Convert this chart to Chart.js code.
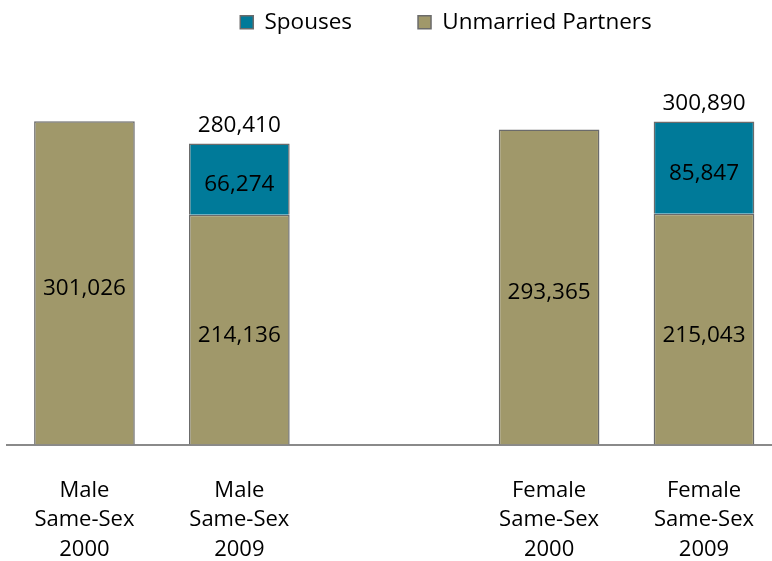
<!DOCTYPE html>
<html>
<head>
<meta charset="utf-8">
<script src="https://cdn.jsdelivr.net/npm/chart.js@4"></script>
<style>
  html, body { margin: 0; padding: 0; background: #fff; overflow: hidden; }
  /* the source image is a crop: the plot runs a little past the right and bottom edges */
  #wrap { width: 772px; height: 561px; overflow: hidden; }
</style>
</head>
<body>
<div id="wrap"><canvas id="chart" width="785" height="595"></canvas></div>
<script>
// Chart data
const categories = [
    ['Male', 'Same-Sex', '2000'],
    ['Male', 'Same-Sex', '2009'],
    '',
    ['Female', 'Same-Sex', '2000'],
    ['Female', 'Same-Sex', '2009']
];
const unmarriedPartners = [301026, 214136, null, 293365, 215043];
const spouses = [null, 66274, null, null, 85847];
const totals = [null, 280410, null, null, 300890];

const colors = {
    olive: '#a0986a',
    teal: '#007a99',
    border: '#6b6b6b',
    axis: '#8a8a8a'
};

const fontFamily = '"Open Sans", "Noto Sans", sans-serif';

const fmt = v => v.toLocaleString('en-US');

// draws segment values in the middle and totals above the stacked bars
const valueLabels = {
    id: 'valueLabels',
    afterDatasetsDraw(chart) {
        const ctx = chart.ctx;
        ctx.save();
        ctx.font = '22.5px ' + fontFamily;
        ctx.fillStyle = '#000';
        ctx.textAlign = 'center';
        ctx.textBaseline = 'middle';
        chart.data.datasets.forEach((ds, di) => {
            const meta = chart.getDatasetMeta(di);
            meta.data.forEach((bar, i) => {
                const v = ds.data[i];
                if (v == null) return;
                const mid = (bar.y + bar.base) / 2;
                ctx.fillText(fmt(v), bar.x, mid + 6);
            });
        });
        const topMeta = chart.getDatasetMeta(1);
        totals.forEach((t, i) => {
            if (t == null) return;
            const bar = topMeta.data[i];
            ctx.fillText(fmt(t), bar.x, bar.y - 18);
        });
        ctx.restore();
    }
};

// legend sits right of centre with a big gap below it
const legendPlacement = {
    id: 'legendPlacement',
    beforeInit(chart) {
        const fit = chart.legend.fit;
        chart.legend.fit = function() {
            fit.bind(chart.legend)();
            this.height = 101;
        };
    },
    afterLayout(chart) {
        const lg = chart.legend;
        lg.left += 50;
        lg.right += 50;
        lg.top -= 55;
        lg.bottom -= 55;
    }
};

new Chart(document.getElementById('chart'), {
    type: 'bar',
    data: {
        labels: categories,
        datasets: [
            {
                label: 'Unmarried Partners',
                data: unmarriedPartners,
                backgroundColor: colors.olive,
                borderColor: colors.border,
                borderWidth: 1.5
            },
            {
                label: 'Spouses',
                data: spouses,
                backgroundColor: colors.teal,
                borderColor: colors.border,
                borderWidth: 1.5
            }
        ]
    },
    options: {
        responsive: false,
        animation: false,
        devicePixelRatio: 1,
        layout: {
            padding: { left: 7, right: 0, top: 0, bottom: 0 }
        },
        datasets: {
            bar: {
                categoryPercentage: 1,
                barPercentage: 0.65
            }
        },
        scales: {
            x: {
                stacked: true,
                grid: { display: false, drawTicks: false },
                border: { display: true, color: colors.axis, width: 2 },
                ticks: {
                    color: '#000',
                    font: { family: fontFamily, size: 22, lineHeight: 1.34 },
                    padding: 31,
                    maxRotation: 0,
                    autoSkip: false
                }
            },
            y: {
                stacked: true,
                display: false,
                min: 0,
                max: 320000
            }
        },
        plugins: {
            legend: {
                position: 'top',
                reverse: true,
                labels: {
                    color: '#000',
                    font: { family: fontFamily, size: 22.5 },
                    boxWidth: 13,
                    boxHeight: 13,
                    padding: 66,
                    useBorderRadius: false
                }
            },
            tooltip: { enabled: false }
        }
    },
    plugins: [valueLabels, legendPlacement]
});
</script>
</body>
</html>
